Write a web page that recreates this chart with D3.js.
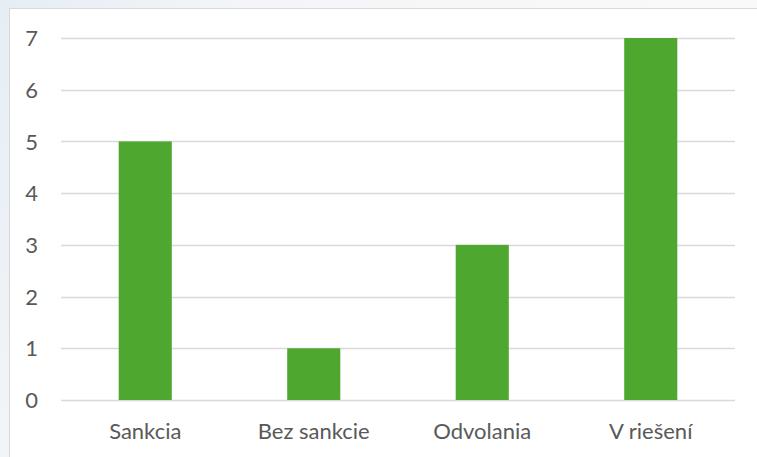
<!DOCTYPE html>
<html>
<head>
<meta charset="utf-8">
<script src="https://cdn.jsdelivr.net/npm/d3@7"></script>
<style>
  html, body { margin: 0; padding: 0; background: #fff; }
  svg text { font-family: Lato, "Open Sans", sans-serif; fill: #595959; }
</style>
</head>
<body>
<svg></svg>
<script>
// Data
var categories = ["Sankcia", "Bez sankcie", "Odvolania", "V riešení"];
var values = [5, 1, 3, 7];
var yTicks = [0, 1, 2, 3, 4, 5, 6, 7];

// Layout
var svgWidth = 757,
    svgHeight = 457,
    frame = {left: 9, top: 8},
    margin = {top: 38, right: 22, bottom: 57, left: 61},
    plotRight = svgWidth - margin.right,
    plotBottom = svgHeight - margin.bottom;

var svg = d3.select("svg")
  .attr("width", svgWidth)
  .attr("height", svgHeight);

// backdrop behind the chart frame
var defs = svg.append("defs");
var grad = defs.append("linearGradient")
  .attr("id", "bg")
  .attr("x1", "0").attr("y1", "0").attr("x2", "1").attr("y2", "0.3");
grad.append("stop").attr("offset", "0").attr("stop-color", "#e6edf5");
grad.append("stop").attr("offset", "0.3").attr("stop-color", "#f3f5f8");
grad.append("stop").attr("offset", "1").attr("stop-color", "#fafafa");

svg.append("rect")
  .attr("width", svgWidth)
  .attr("height", svgHeight)
  .style("fill", "url(#bg)");

svg.append("rect")
  .attr("x", frame.left + 0.5)
  .attr("y", frame.top + 0.5)
  .attr("width", svgWidth)
  .attr("height", svgHeight)
  .style("fill", "#fff")
  .style("stroke", "#d9d9d9")
  .style("stroke-width", 1);

// Scales
var x = d3.scaleBand()
  .domain(categories)
  .range([margin.left, plotRight])
  .paddingInner(0.685)
  .paddingOuter(0.3425);

var y = d3.scaleLinear()
  .domain([0, 7])
  .range([plotBottom, margin.top]);

// Gridlines
svg.append("g")
  .classed("grid", true)
  .selectAll("line")
  .data(yTicks)
  .enter()
    .append("line")
    .attr("x1", margin.left)
    .attr("x2", plotRight)
    .attr("y1", function (d) { return Math.round(y(d)) + 0.5; })
    .attr("y2", function (d) { return Math.round(y(d)) + 0.5; })
    .style("stroke", "#d9d9d9")
    .style("stroke-width", 1.5);

// Bars
svg.append("g")
  .classed("bars", true)
  .selectAll("rect")
  .data(values)
  .enter()
    .append("rect")
    .attr("x", function (d, i) { return x(categories[i]); })
    .attr("y", function (d) { return y(d); })
    .attr("width", x.bandwidth())
    .attr("height", function (d) { return y(0) - y(d); })
    .style("fill", "#4ea72e");

// Y axis labels
var yAxis = svg.append("g")
  .attr("transform", "translate(" + [margin.left, 0] + ")")
  .call(d3.axisLeft(y).tickValues(yTicks).tickSize(0).tickPadding(23).tickFormat(d3.format("d")));
yAxis.select(".domain").remove();
yAxis.selectAll("text")
  .style("font-size", "22px")
  .style("fill", "#595959")
  .attr("dy", "0.35em");

// X axis labels
var xAxis = svg.append("g")
  .attr("transform", "translate(" + [0, plotBottom] + ")")
  .call(d3.axisBottom(x).tickSize(0).tickPadding(23));
xAxis.select(".domain").remove();
xAxis.selectAll("text")
  .style("font-size", "22px")
  .style("fill", "#595959");
</script>
</body>
</html>
